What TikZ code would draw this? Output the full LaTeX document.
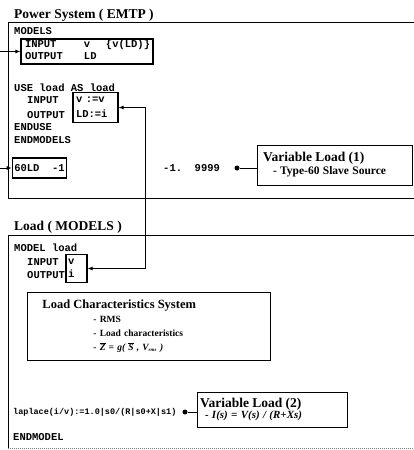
\documentclass[tikz,border=0pt]{standalone}
\usepackage{fontspec}
\setmainfont{Liberation Serif}
\setmonofont{Liberation Mono}
\usetikzlibrary{positioning,arrows.meta}

\newcommand{\codefont}{\ttfamily\bfseries\fontsize{10.5}{12}\selectfont}

\begin{document}
\begin{tikzpicture}[x=1pt,y=-1pt,
    code/.style={font=\codefont,inner sep=0pt,anchor=west},
    heading/.style={font=\bfseries\fontsize{13.5}{16}\selectfont,inner sep=0pt,anchor=base west},
    iobox/.style={draw,line width=1.2pt,font=\codefont,inner sep=0pt,align=left},
    note/.style={draw,line width=0.9pt,align=left,inner ysep=3pt},
    panel/.style={line width=1pt},
    link/.style={line width=0.8pt},
    tip/.style={-{Latex[length=5pt,width=4pt]}},
    tips/.style={{Latex[length=5pt,width=4pt]}-{Latex[length=5pt,width=4pt]}},
    dot/.style={circle,fill,inner sep=0pt,minimum size=5pt}]

  \useasboundingbox (0,0) rectangle (414,450);

  % power system side
  \node[heading] (emtp) at (14,18) {Power System ( EMTP )};
  \draw[panel] (414,22) -| (8,198) -- (414,198);
  \node[code] (models) at (14,31.5) {MODELS};
  \node[iobox,text width=124pt,inner xsep=4pt,inner ysep=0.5pt] (io1) at (87,51.5)
    {\begin{tabular}{@{}p{59pt}@{}p{22pt}@{}l@{}}INPUT & v & \{v(LD)\}\\OUTPUT & LD & \end{tabular}};
  \node[code] (use) at (14,88) {USE load AS load};
  \node[code] (in2) at (27,100) {INPUT};
  \node[code] (out2) at (27,115) {OUTPUT};
  \node[iobox,text width=39pt,inner xsep=3pt,inner ysep=1.5pt] (io2) at (95.5,107.5)
    {\begin{tabular}{@{}l@{}}v :=v\\[3pt]LD:=i\end{tabular}};
  \node[code] (enduse) at (14,127) {ENDUSE};
  \node[code] (endmodels) at (14,140) {ENDMODELS};
  \node[iobox,inner xsep=2pt,minimum height=20pt] (src) at (39.5,168) {60LD\ \ -1};
  \coordinate (edge1) at (0,51.5);
  \coordinate (edge2) at (0,168);
  \draw[link,tip] (edge1) -- (io1);
  \draw[link,tip] (edge2) -- (src);
  \node[code] (value) at (163,168) {-1.\ \ 9999};
  \node[dot] (d1) at (237,168) {};
  \node[note,text width=143pt,inner xsep=6pt,minimum height=40pt,font=\bfseries] (var1) at (334.5,165)
    {{\fontsize{13.5}{16}\selectfont Variable Load (1)}\\[1pt]
     \hspace*{10pt}{\fontsize{11.5}{13}\selectfont - Type-60 Slave Source}};
  \draw[link] (d1) -- (d1 -| var1.west);

  % models side
  \node[heading] (mdl) at (14,230) {Load ( MODELS )};
  \draw[panel] (414,235) -| (8,448);
  \draw[panel,densely dotted,gray] (8,448) -- (414,448);
  \node[code] (model) at (14,248) {MODEL load};
  \node[code] (in4) at (27,262) {INPUT};
  \node[code] (out4) at (27,275) {OUTPUT};
  \node[iobox,text width=17pt,inner xsep=2pt,inner ysep=1.5pt] (io4) at (76.5,268.5)
    {\begin{tabular}{@{}l@{}}v\\[1pt]i\end{tabular}};
  \coordinate (bus) at (145,0);
  \draw[link,tips] (io2.east) -- (io2.east -| bus) -- (io4.east -| bus) -- (io4.east);
  \node[note,anchor=north west,text width=213pt,inner xsep=15pt,minimum height=68pt,
        font=\bfseries\fontsize{9.5}{14}\selectfont] (chars) at (27,292)
    {{\fontsize{12.5}{15}\selectfont Load Characteristics System}\\
     \hspace*{51pt}- RMS\\
     \hspace*{51pt}- Load characteristics\\
     \hspace*{51pt}- {\itshape $\overline{\mbox{Z}}$ = g( $\overline{\mbox{S}}$ , V$_{\mbox{\tiny rms}}$ )}};
  \node[code,font=\ttfamily\bfseries\fontsize{8.5}{10}\selectfont] (laplace) at (13,412)
    {laplace(i/v):=1.0|s0/(R|s0+X|s1)};
  \node[dot] (d2) at (185,412) {};
  \node[note,text width=144pt,inner xsep=3pt,minimum height=35pt,font=\bfseries] (var2) at (272,409.5)
    {{\fontsize{13.5}{16}\selectfont Variable Load (2)}\\[-1pt]
     \hspace*{5pt}{\fontsize{11}{13}\selectfont\itshape - I(s) = V(s) / (R+Xs)}};
  \draw[link] (d2) -- (d2 -| var2.west);
  \node[code] (endmodel) at (13,437) {ENDMODEL};
\end{tikzpicture}
\end{document}
